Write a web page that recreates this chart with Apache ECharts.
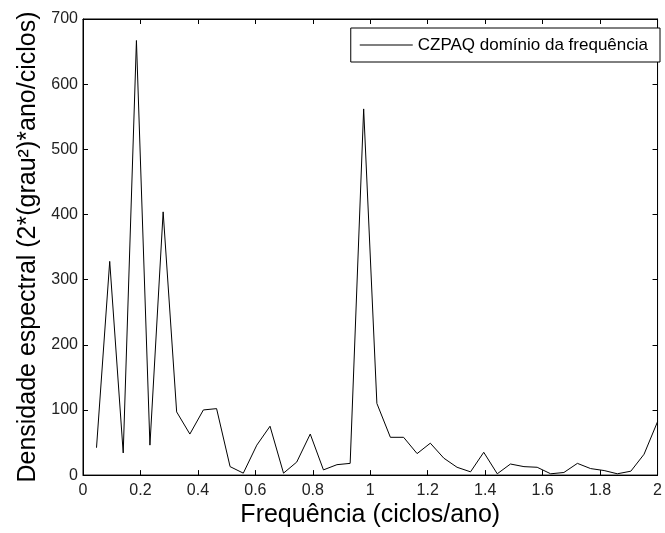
<!DOCTYPE html>
<html>
<head>
<meta charset="utf-8">
<script src="https://cdn.jsdelivr.net/npm/echarts@6/dist/echarts.min.js"></script>
<style>
  html, body { margin: 0; padding: 0; background: #fff; }
  #main { width: 665px; height: 533px; }
</style>
</head>
<body>
<div id="main"></div>
<script>
// frequencias (ciclos/ano) e densidade espectral
var freq = [0.047, 0.093, 0.140, 0.186, 0.233, 0.279, 0.326, 0.372, 0.419, 0.465,
            0.512, 0.558, 0.605, 0.651, 0.698, 0.744, 0.791, 0.837, 0.884, 0.930,
            0.977, 1.023, 1.070, 1.116, 1.163, 1.209, 1.256, 1.302, 1.349, 1.395,
            1.442, 1.488, 1.535, 1.581, 1.628, 1.674, 1.721, 1.767, 1.814, 1.860,
            1.907, 1.953, 2.000];
var dens = [42, 328, 34, 667, 46, 404, 97, 63, 100, 102,
            13, 3, 46, 75, 3, 20, 63, 8, 16, 18,
            562, 110, 58, 58, 33, 49, 26, 12, 5, 35,
            2, 17, 13, 12, 2, 4, 18, 10, 7, 2,
            6, 32, 82];
var xTicks = ['0', '0.2', '0.4', '0.6', '0.8', '1', '1.2', '1.4', '1.6', '1.8', '2'];
var yTicks = ['0', '100', '200', '300', '400', '500', '600', '700'];
var seriesName = 'CZPAQ domínio da frequência';

var font = "'Liberation Sans', Arial, Helvetica, sans-serif";

var chart = echarts.init(document.getElementById("main"));

function setData() {
    var result = [];
    for (var i = 0; i < freq.length; i++) {
        result.push([freq[i], dens[i]]);
    }
    return result;
}

function tick() {
    return { show: true, inside: true, length: 5, lineStyle: { color: '#000', width: 1 } };
}
function line() {
    return { show: true, onZero: false, lineStyle: { color: '#000', width: 1 } };
}

option = {
    backgroundColor: '#fff',
    animation: false,
    grid: { left: 83, right: 2, top: 19, bottom: 56, show: true, borderColor: '#000', borderWidth: 1, backgroundColor: 'transparent' },
    legend: {
      data: [seriesName],
      right: 5,
      top: 28,
      padding: [8, 12, 8, 9],
      icon: 'rect',
      itemWidth: 53,
      itemHeight: 1,
      backgroundColor: '#fff',
      borderColor: '#000',
      borderWidth: 1,
      textStyle: { fontFamily: font, fontSize: 17, color: '#000', lineHeight: 18 }
    },
    xAxis: [
      {
        type: 'value',
        min: 0,
        max: 2,
        interval: 0.2,
        position: 'bottom',
        name: 'Frequência (ciclos/ano)',
        nameLocation: 'middle',
        nameGap: 19,
        nameTextStyle: { fontFamily: font, fontSize: 25, color: '#000' },
        axisLine: line(),
        axisTick: tick(),
        splitLine: { show: false },
        axisLabel: {
          margin: 7,
          fontFamily: font, fontSize: 16, color: '#222',
          formatter: function (v) { return xTicks[Math.round(v / 0.2)]; }
        }
      },
      {
        type: 'value',
        min: 0,
        max: 2,
        interval: 0.2,
        position: 'top',
        axisLine: line(),
        axisTick: tick(),
        axisLabel: { show: false },
        splitLine: { show: false }
      }
    ],
    yAxis: [
      {
        type: 'value',
        min: 0,
        max: 700,
        interval: 100,
        position: 'left',
        name: 'Densidade espectral (2*(grau²)*ano/ciclos)',
        nameLocation: 'middle',
        nameGap: 41,
        nameTextStyle: { fontFamily: font, fontSize: 25, color: '#000' },
        axisLine: line(),
        axisTick: tick(),
        splitLine: { show: false },
        axisLabel: {
          margin: 5,
          fontFamily: font, fontSize: 16, color: '#222',
          formatter: function (v) { return yTicks[Math.round(v / 100)]; }
        }
      },
      {
        type: 'value',
        min: 0,
        max: 700,
        interval: 100,
        position: 'right',
        axisLine: line(),
        axisTick: tick(),
        axisLabel: { show: false },
        splitLine: { show: false }
      }
    ],
    series: [
      {
        name: seriesName,
        type: 'line',
        data: setData(),
        symbol: 'none',
        lineStyle: { color: '#000', width: 1 },
        itemStyle: { color: '#000' }
      },
      {
        // vazia: so para prender os eixos de cima e da direita
        name: 'box',
        type: 'line',
        xAxisIndex: 1,
        yAxisIndex: 1,
        data: [],
        symbol: 'none'
      }
    ]
};

chart.setOption(option);
</script>
</body>
</html>
